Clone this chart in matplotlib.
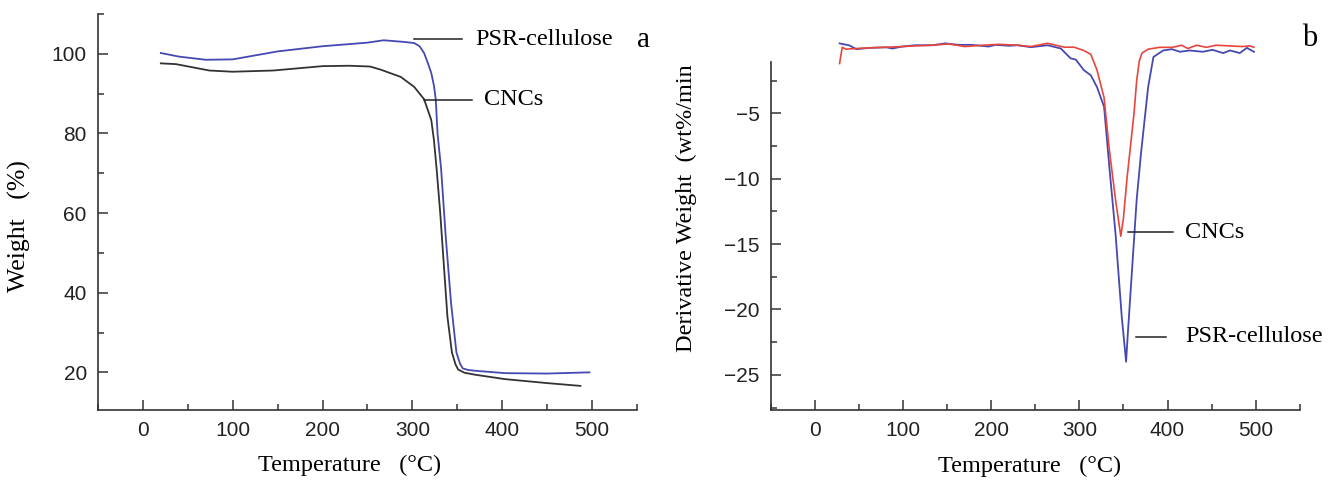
import matplotlib.pyplot as plt
from matplotlib.ticker import MultipleLocator

# TGA curves (panel a)
psr_T = [20, 40, 70, 100, 150, 200, 250, 268, 290, 302, 308, 313, 317, 321, 324, 326, 328, 332, 337, 343, 349, 353, 356, 362, 370, 403, 450, 497]
psr_W = [100.2, 99.3, 98.5, 98.6, 100.6, 101.9, 102.8, 103.4, 103.0, 102.7, 101.9, 100.2, 97.8, 95.2, 92.0, 88.6, 80.0, 71.0, 54.4, 37.5, 25.0, 22.2, 21.0, 20.6, 20.4, 19.8, 19.7, 20.0]
cnc_T = [20, 37, 74, 100, 145, 200, 230, 253, 265, 287, 302, 313, 321, 324, 327, 331, 335, 339, 344, 348, 351, 358, 370, 403, 450, 487]
cnc_W = [97.6, 97.4, 95.8, 95.5, 95.8, 96.9, 97.0, 96.8, 96.0, 94.2, 91.7, 88.6, 83.4, 78.3, 71.0, 60.0, 47.0, 34.0, 25.0, 22.0, 20.7, 19.9, 19.4, 18.3, 17.3, 16.6]

# DTG curves (panel b)
psr_dT = [28, 39, 47, 62, 81, 88, 99, 114, 133, 148, 163, 178, 197, 205, 220, 230, 245, 264, 279, 290, 296, 305,
          313, 320, 328, 334, 341, 348, 353, 355, 360, 365, 370, 374, 378, 384, 395, 405, 414, 425, 440, 451,
          463, 471, 482, 490, 498]
psr_dW = [0.34, 0.19, -0.1, 0.0, 0.04, -0.05, 0.1, 0.2, 0.2, 0.34, 0.23, 0.23, 0.1, 0.23, 0.16, 0.2, 0.05, 0.2, -0.05, -0.8, -0.9, -1.7,
          -2.1, -3.0, -4.5, -9.1, -14.2, -20.5, -24.0, -21.8, -16.7, -11.6, -8.0, -5.5, -3.0, -0.7, -0.2, -0.1, -0.3, -0.2, -0.3, -0.15,
          -0.4, -0.2, -0.4, 0.0, -0.3]
cnc_dT = [28, 31, 35, 47, 62, 81, 99, 114, 133, 152, 170, 190, 208, 230, 245, 264, 283, 294, 305, 313, 320, 328, 334,
          341, 347, 350, 354, 358, 362, 365, 368, 371, 378, 391, 406, 416, 423, 433, 444, 455, 470, 485, 493, 498]
cnc_dW = [-1.2, 0.05, -0.1, -0.05, 0.0, 0.05, 0.1, 0.15, 0.2, 0.3, 0.1, 0.2, 0.27, 0.2, 0.1, 0.35, 0.05, 0.05, -0.2, -0.5, -1.7, -3.8, -7.8,
          -11.6, -14.4, -13.0, -10.0, -7.5, -5.0, -2.5, -1.0, -0.4, -0.1, 0.04, 0.04, 0.2, -0.05, 0.2, 0.04, 0.2, 0.15, 0.1, 0.15, 0.05]

blue = '#4649b2'
red = '#e8463c'
black = '#333333'
serif = ['Liberation Serif', 'DejaVu Serif']
sans = ['Liberation Sans', 'DejaVu Sans']

fig = plt.figure(figsize=(13.29, 4.82), dpi=100)
axa = fig.add_axes([0.0737, 0.149, 0.4056, 0.822])
axb = fig.add_axes([0.580, 0.149, 0.398, 0.768])

for ax in (axa, axb):
    for s in ('top', 'right'):
        ax.spines[s].set_visible(False)
    for s in ('left', 'bottom'):
        ax.spines[s].set_color('#333333')
        ax.spines[s].set_linewidth(1.2)
    ax.set_xlim(-50, 550)
    ax.xaxis.set_major_locator(MultipleLocator(100))
    ax.xaxis.set_minor_locator(MultipleLocator(50))
    ax.tick_params(which='both', direction='in', color='#333333', width=1.1)
    ax.tick_params(which='major', length=7, labelsize=15, labelcolor='#222222', pad=8)
    ax.tick_params(which='minor', length=4)
    for lab in ax.get_xticklabels() + ax.get_yticklabels():
        lab.set_family(sans)
    ax.set_xlabel('Temperature   (°C)', family=serif, fontsize=17.5)

# panel a
axa.plot(cnc_T, cnc_W, color=black, lw=1.3)
axa.plot(psr_T, psr_W, color=blue, lw=1.3)
axa.set_ylim(10.5, 110)
axa.yaxis.set_major_locator(MultipleLocator(20))
axa.yaxis.set_minor_locator(MultipleLocator(10))
for lab in axa.get_yticklabels():
    lab.set_family(sans)
axa.set_ylabel('Weight   (%)', family=serif, fontsize=18.5)
axa.xaxis.set_label_coords(0.466, -0.113)
axa.yaxis.set_label_coords(-0.125, 0.465)
axa.plot([302, 355], [103.6, 103.6], color='#222222', lw=1.1)
axa.text(370, 103.6, 'PSR-cellulose', family=serif, fontsize=17.5, va='center')
axa.plot([313, 366], [88.5, 88.5], color='#222222', lw=1.1)
axa.text(380, 88.5, 'CNCs', family=serif, fontsize=17.5, va='center')
axa.text(550, 103.5, 'a', family=serif, fontsize=21, va='center')

# panel b
axb.plot(psr_dT, psr_dW, color=blue, lw=1.3, clip_on=False)
axb.plot(cnc_dT, cnc_dW, color=red, lw=1.2, clip_on=False)
axb.set_ylim(-27.7, 0.6)
axb.spines['left'].set_bounds(-27.7, -1.1)
axb.set_yticks([-5, -10, -15, -20, -25])
axb.set_yticks([-2.5, -7.5, -12.5, -17.5, -22.5, -27.5], minor=True)
for lab in axb.get_yticklabels():
    lab.set_family(sans)
axb.set_ylabel('Derivative Weight  (wt%/min', family=serif, fontsize=17.5)
axb.yaxis.set_label_coords(-0.14, 0.545)
axb.xaxis.set_label_coords(0.49, -0.122)
axb.plot([355, 406], [-14.1, -14.1], color='#222222', lw=1.1)
axb.text(420, -14.1, 'CNCs', family=serif, fontsize=17.5, va='center')
axb.plot([364, 398], [-22.1, -22.1], color='#222222', lw=1.1)
axb.text(420, -22.1, 'PSR-cellulose', family=serif, fontsize=17.5, va='center')
axb.text(553, 0.75, 'b', family=serif, fontsize=22, va='center')

plt.savefig('out.png', dpi=100)
